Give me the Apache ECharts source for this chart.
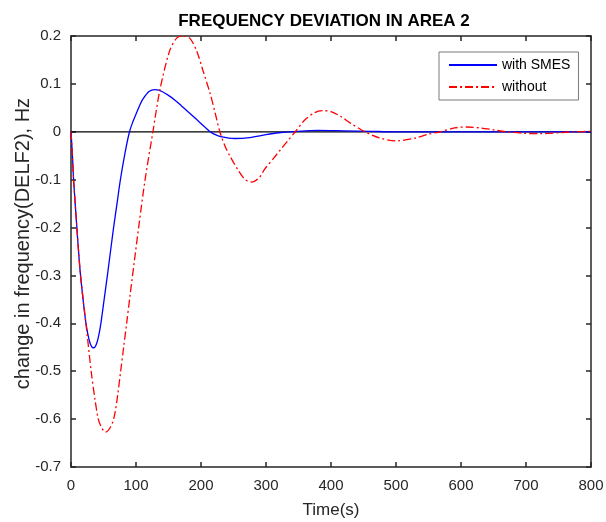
<!DOCTYPE html>
<html>
<head>
<meta charset="utf-8">
<script src="https://cdn.jsdelivr.net/npm/echarts@6/dist/echarts.min.js"></script>
<style>
html,body{margin:0;padding:0;background:#fff;}
#chart{width:606px;height:522px;}
</style>
</head>
<body>
<div id="chart"></div>
<script>
var titleText = 'FREQUENCY DEVIATION IN AREA 2';
var xName = 'Time(s)';
var yName = 'change in frequency(DELF2), Hz';
var seriesNames = ['with SMES', 'without'];

var withSmesT = [0,2,4,9,14,19,23,26,29,32,34.5,37,40,43,46,51,56,65.5,71,76,83,90,95.5,101,106,111,120,129,135,140,150,160,170,180,193,205,214,222,230,252,275,300,320,337,360,380,420,460,500,600,700,800];
var withSmesV = [0,-0.045,-0.1,-0.2,-0.29,-0.355,-0.4,-0.423,-0.44,-0.449,-0.451,-0.449,-0.44,-0.423,-0.4,-0.35,-0.3,-0.2,-0.148,-0.1,-0.045,0,0.022,0.04,0.056,0.069,0.084,0.088,0.087,0.084,0.076,0.066,0.054,0.042,0.026,0.011,0,-0.006,-0.01,-0.014,-0.012,-0.006,-0.002,0,0.002,0.003,0.002,0.001,0,0,0,0];

var withoutT = [0,2,4,9,14,19,23,31,37,42,46,50,53,57,61,64.5,68,72,76.4,81,85.6,91,97.5,105,114,126,137,152,163,173,183,193,203,214,222,229,237,245,257,268,278,290,298,310,322,334,345,360,375,388,400,415,430,452,475,501,530,550,568,590,609,630,650,670,695,721,750,775,800];
var withoutV = [0,-0.045,-0.1,-0.2,-0.29,-0.355,-0.4,-0.5,-0.56,-0.6,-0.615,-0.624,-0.627,-0.624,-0.616,-0.605,-0.585,-0.548,-0.5,-0.45,-0.4,-0.34,-0.27,-0.19,-0.1,0,0.089,0.17,0.196,0.2,0.195,0.17,0.128,0.08,0.038,0,-0.03,-0.052,-0.08,-0.1,-0.105,-0.095,-0.078,-0.058,-0.038,-0.018,0,0.025,0.04,0.044,0.042,0.032,0.018,0,-0.013,-0.019,-0.013,-0.005,0,0.008,0.01,0.008,0.004,0,-0.003,-0.004,-0.002,0,0.001];

var zeroT = [0, 800];
var zeroV = [0, 0];

function pairs(t, v){ return t.map(function(x,i){ return [x, v[i]]; }); }

var axisCol = '#262626';
var font = 'Liberation Sans, Arial';
var chart = echarts.init(document.getElementById('chart'));
function yFmt(v){ return String(parseFloat(Number(v).toFixed(1))); }

chart.setOption({
  animation: false,
  backgroundColor: '#fff',
  title: {
    text: titleText, left: 319, top: 8, textAlign: 'center',
    textStyle: {fontFamily: font, fontWeight: 'bold', fontSize: 17, color: '#000'}
  },
  legend: {
    orient: 'vertical', left: 439, top: 52, itemWidth: 48, itemHeight: 12, itemGap: 8,
    padding: [6, 8, 6, 9],
    backgroundColor: '#fff', borderColor: '#7a7a7a', borderWidth: 1,
    itemStyle: {opacity: 0},
    textStyle: {fontFamily: font, fontSize: 14, color: '#000'},
    data: seriesNames
  },
  grid: {left: 71, right: 15, top: 36, bottom: 55, outerBoundsMode: 'none', containLabel: false},
  xAxis: [{
    type: 'value', min: 0, max: 800, interval: 100,
    name: xName, nameLocation: 'middle', nameGap: 35, nameMoveOverlap: false,
    nameTextStyle: {fontFamily: font, fontSize: 17, color: '#262626'},
    axisLine: {show: true, onZero: false, lineStyle: {color: axisCol, width: 1.5}},
    axisTick: {show: true, inside: true, length: 5, lineStyle: {color: axisCol, width: 1.5}},
    axisLabel: {margin: 11, fontFamily: font, fontSize: 15, color: '#262626'},
    splitLine: {show: false}
  }, {
    type: 'value', min: 0, max: 800, interval: 100, position: 'top',
    axisLine: {show: true, onZero: false, lineStyle: {color: axisCol, width: 1.5}},
    axisTick: {show: true, inside: true, length: 5, lineStyle: {color: axisCol, width: 1.5}},
    axisLabel: {show: false}, splitLine: {show: false}
  }],
  yAxis: [{
    type: 'value', min: -0.7, max: 0.2, interval: 0.1,
    name: yName, nameLocation: 'middle', nameGap: 38, nameRotate: 90, nameMoveOverlap: false,
    nameTextStyle: {fontFamily: font, fontSize: 20, color: '#262626', padding: [0, 0, 0, 16]},
    axisLine: {show: true, onZero: false, lineStyle: {color: axisCol, width: 1.5}},
    axisTick: {show: true, inside: true, length: 5, lineStyle: {color: axisCol, width: 1.5}},
    axisLabel: {margin: 10, fontFamily: font, fontSize: 15, color: '#262626', formatter: yFmt},
    splitLine: {show: false}
  }, {
    type: 'value', min: -0.7, max: 0.2, interval: 0.1, position: 'right',
    axisLine: {show: true, onZero: false, lineStyle: {color: axisCol, width: 1.5}},
    axisTick: {show: true, inside: true, length: 5, lineStyle: {color: axisCol, width: 1.5}},
    axisLabel: {show: false}, splitLine: {show: false}
  }],
  series: [{
    name: seriesNames[0], type: 'line', data: pairs(withSmesT, withSmesV),
    smooth: 0.3, symbol: 'none', z: 3,
    lineStyle: {color: '#0000ff', width: 1.3}, itemStyle: {color: '#0000ff'}
  }, {
    name: seriesNames[1], type: 'line', data: pairs(withoutT, withoutV),
    smooth: 0.3, symbol: 'none', z: 4,
    lineStyle: {color: '#ff0000', width: 1.3, type: [8, 3, 2, 3]}, itemStyle: {color: '#ff0000'}
  }, {
    name: 'zero', type: 'line', data: pairs(zeroT, zeroV), symbol: 'none', z: 2,
    lineStyle: {color: '#000', width: 1.2}, silent: true
  }]
});
</script>
</body>
</html>
